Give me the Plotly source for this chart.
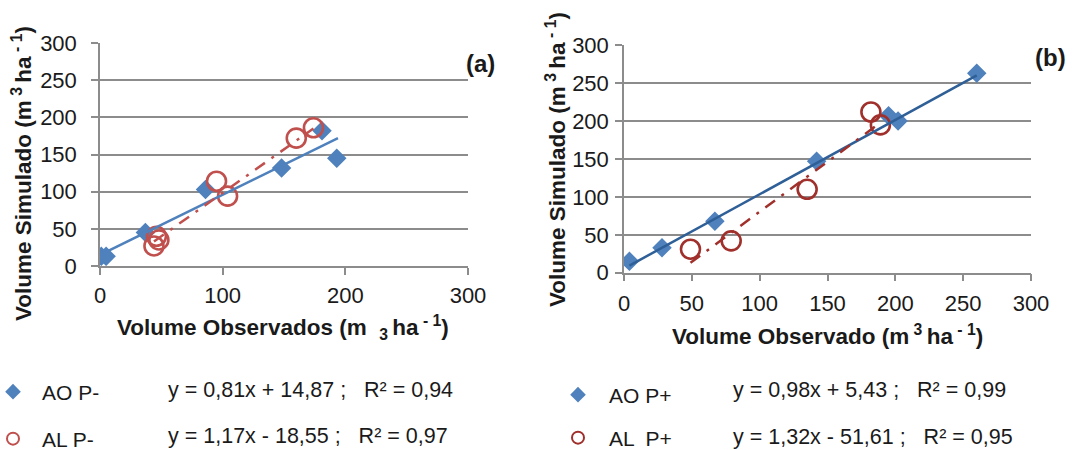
import numpy as np
import plotly.graph_objects as go

# ---- data: panel (a) -------------------------------------------------------
ao_minus_obs = [1, 5, 37, 86, 148, 181, 193]
ao_minus_sim = [13, 13, 45, 103, 132, 182, 145]
al_minus_obs = [44, 46, 48, 95, 104, 160, 174]
al_minus_sim = [27, 40, 35, 114, 94, 172, 186]

# ---- data: panel (b) -------------------------------------------------------
ao_plus_obs = [4, 28, 67, 142, 195, 202, 260]
ao_plus_sim = [15, 33, 68, 147, 207, 200, 263]
al_plus_obs = [49, 79, 135, 182, 189]
al_plus_sim = [31, 42, 110, 212, 195]

# fitted lines (slope, intercept, r2)
fit_ao_minus = (0.81, 14.87, 0.94)
fit_al_minus = (1.17, -18.55, 0.97)
fit_ao_plus = (0.98, 5.43, 0.99)
fit_al_plus = (1.32, -51.61, 0.95)

tick_vals = [0, 50, 100, 150, 200, 250, 300]
x_ticks_a = [0, 100, 200, 300]
x_ticks_b = [0, 50, 100, 150, 200, 250, 300]

W, H = 1079, 450
FONT = "Arial, Liberation Sans, sans-serif"
BLUE = "#4F81BD"
BLUE_DARK = "#2F5F97"
RED = "#C0504D"
RED_DARK = "#A0302C"
GRID = "#8C8C8C"
TXT = "#1a1a1a"


def px(x):
    return x / W


def py(y):
    return 1 - y / H


def fit_line(xs, fit):
    xl = np.array([min(xs), max(xs)], dtype=float)
    return xl, fit[0] * xl + fit[1]


def eq_text(fit):
    a, b, r2 = fit
    sign = "+" if b >= 0 else "-"
    fmt = lambda v: f"{v:.2f}".replace(".", ",")
    return f"y = {fmt(a)}x {sign} {fmt(abs(b))} ;   R² = {fmt(r2)}"


fig = go.Figure()

# panel (a) markers
fig.add_trace(go.Scatter(x=ao_minus_obs, y=ao_minus_sim, mode="markers", name="AO P-",
                         marker=dict(symbol="diamond", size=15, color=BLUE),
                         xaxis="x", yaxis="y", legend="legend"))
fig.add_trace(go.Scatter(x=al_minus_obs, y=al_minus_sim, mode="markers", name="AL P-",
                         marker=dict(symbol="circle-open", size=19, color=RED,
                                     line=dict(width=2.6, color=RED)),
                         xaxis="x", yaxis="y", legend="legend2"))
# panel (a) fits
lx, ly = fit_line([0, 194], fit_ao_minus)
fig.add_trace(go.Scatter(x=lx, y=ly, mode="lines", showlegend=False,
                         line=dict(color=BLUE, width=2.5), xaxis="x", yaxis="y"))
lx, ly = fit_line(al_minus_obs, fit_al_minus)
fig.add_trace(go.Scatter(x=lx, y=ly, mode="lines", showlegend=False,
                         line=dict(color=RED, width=2.5, dash="12px,8px,3px,8px"),
                         xaxis="x", yaxis="y"))

# panel (b) markers
fig.add_trace(go.Scatter(x=ao_plus_obs, y=ao_plus_sim, mode="markers", name="AO P+",
                         marker=dict(symbol="diamond", size=15, color=BLUE),
                         xaxis="x2", yaxis="y2", legend="legend3"))
fig.add_trace(go.Scatter(x=al_plus_obs, y=al_plus_sim, mode="markers", name="AL  P+",
                         marker=dict(symbol="circle-open", size=19, color=RED_DARK,
                                     line=dict(width=2.6, color=RED_DARK)),
                         xaxis="x2", yaxis="y2", legend="legend4"))
# panel (b) fits
lx, ly = fit_line(ao_plus_obs, fit_ao_plus)
fig.add_trace(go.Scatter(x=lx, y=ly, mode="lines", showlegend=False,
                         line=dict(color=BLUE_DARK, width=2.5), xaxis="x2", yaxis="y2"))
lx, ly = fit_line(al_plus_obs, fit_al_plus)
fig.add_trace(go.Scatter(x=lx, y=ly, mode="lines", showlegend=False,
                         line=dict(color=RED_DARK, width=2.5, dash="12px,8px,3px,8px"),
                         xaxis="x2", yaxis="y2"))

axis_common = dict(
    range=[0, 300], showgrid=True, gridcolor=GRID, gridwidth=1.5,
    showline=True, linecolor=GRID, linewidth=1.5, zeroline=False,
    ticks="outside", ticklen=7, tickcolor=GRID, tickwidth=1.5, automargin=False,
    tickfont=dict(family=FONT, size=22, color=TXT), fixedrange=True,
)

xa = dict(axis_common, showgrid=False)
fig.update_layout(
    width=W, height=H, margin=dict(l=0, r=0, t=0, b=0, autoexpand=False),
    paper_bgcolor="white", plot_bgcolor="white",
    font=dict(family=FONT, color=TXT),
    xaxis=dict(xa, domain=[px(100), px(468)], tickvals=x_ticks_a, anchor="y",
               ticklabelstandoff=2),
    yaxis=dict(axis_common, domain=[py(266), py(43)], tickvals=tick_vals, anchor="x",
               ticklabelstandoff=10),
    xaxis2=dict(xa, domain=[px(624), px(1031)], tickvals=x_ticks_b, anchor="y2",
                ticklabelstandoff=3),
    yaxis2=dict(axis_common, domain=[py(272.7), py(45.3)], tickvals=tick_vals, anchor="x2",
                ticklabelstandoff=2),
)

legend_style = dict(font=dict(family=FONT, size=21, color=TXT), bgcolor="rgba(0,0,0,0)",
                    xanchor="left", yanchor="middle", itemsizing="constant")
fig.update_layout(
    legend=dict(legend_style, x=px(-16), y=py(392), itemwidth=48),
    legend2=dict(legend_style, x=px(-16), y=py(439), itemwidth=48),
    legend3=dict(legend_style, x=px(547), y=py(395), itemwidth=52),
    legend4=dict(legend_style, x=px(547), y=py(438), itemwidth=52),
)

annotations = []


def add_text(text, x, y, size=21, bold=False, angle=0, xanchor="left"):
    annotations.append(dict(
        text=f"<b>{text}</b>" if bold else text, x=px(x), y=py(y),
        xref="paper", yref="paper", showarrow=False, textangle=angle,
        xanchor=xanchor, yanchor="middle",
        font=dict(family=FONT, size=size, color=TXT)))


# axis titles
add_text("Volume Simulado (m<sup> 3 </sup>ha<sup> - 1</sup>)", 22, 174, size=22.5, bold=True,
         angle=-90, xanchor="center")
add_text("Volume Observados (m  <sub>3 </sub>ha<sup> - 1</sup>)", 283, 327, size=22.5, bold=True,
         xanchor="center")
add_text("Volume Simulado (m<sup> 3 </sup>ha<sup> - 1</sup>)", 556, 160, size=22.5, bold=True,
         angle=-90, xanchor="center")
add_text("Volume Observado (m<sup> 3 </sup>ha<sup> - 1</sup>)", 827, 335, size=22.5, bold=True,
         xanchor="center")

# panel labels
add_text("(a)", 480, 63, size=24, bold=True, xanchor="center")
add_text("(b)", 1050, 58, size=24, bold=True, xanchor="center")

# regression equations
add_text(eq_text(fit_ao_minus), 166, 390, size=21.5)
add_text(eq_text(fit_al_minus), 166, 436, size=21.5)
add_text(eq_text(fit_ao_plus), 731, 390, size=21.5)
add_text(eq_text(fit_al_plus), 731, 437, size=21.5)

fig.update_layout(annotations=annotations)

fig.write_html("out.html")
